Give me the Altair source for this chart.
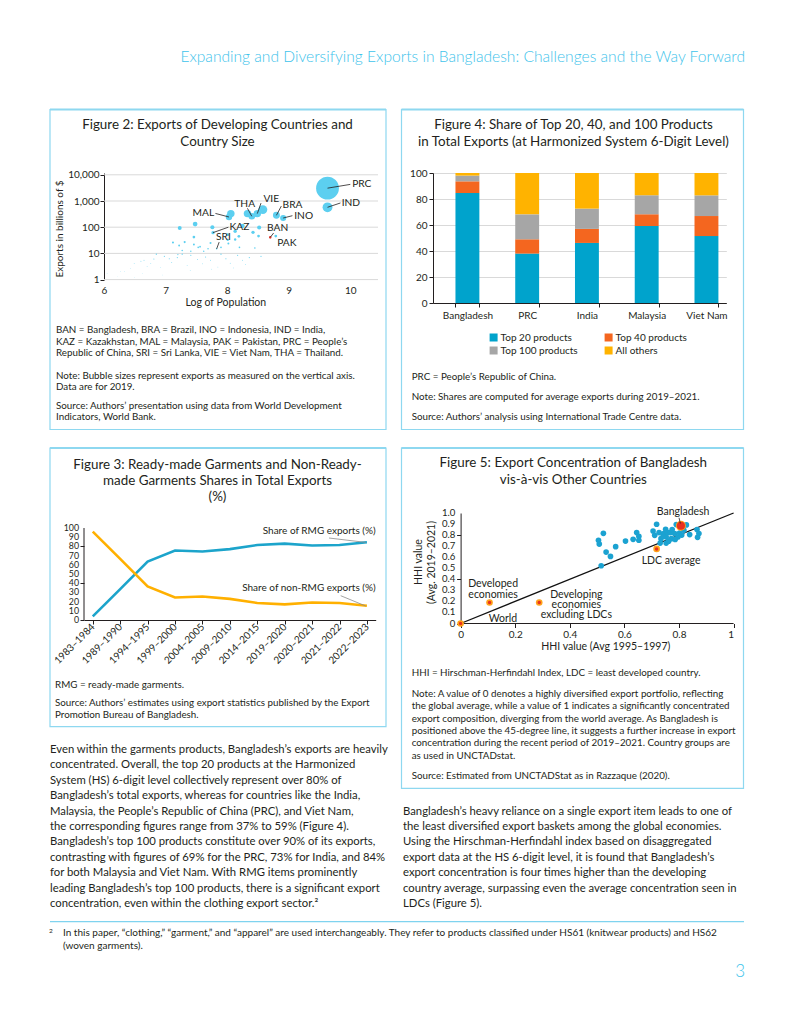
import altair as alt
import pandas as pd

FONT = "Lato"
INK = "#231f20"
CYAN = "#3ec3eb"
BOXC = "#8ed8f0"
GRID = "#d9d9d9"

# ================= DATA =================
# Figure 2: exports vs log of population (2019)
f2_code = ["PRC", "IND", "", "VIE", "THA", "", "BRA", "INO", "MAL", "",
           "", "", "", "", "", "KAZ", "", "", "", "",
           "", "", "", "", "", "", "", "", "", "",
           "", "", "", "", "", "", "", "", "", "SRI",
           "BAN", "PAK"] + [""] * 40
f2_logpop = [9.63, 9.63, 8.58, 8.49, 8.40, 8.33, 8.80, 8.91, 8.03, 8.06,
             7.48, 7.23, 8.25, 8.13, 8.52, 7.77, 7.76, 8.01, 8.19, 8.42,
             8.51, 8.13, 8.01, 7.73, 7.12, 7.22, 7.31, 7.46, 7.46, 7.53,
             7.56, 7.69, 7.90, 8.02, 8.20, 8.45, 7.27, 7.41, 7.62, 7.83,
             8.70, 8.79,
             6.85, 6.65, 6.60, 6.76, 6.98, 7.06, 7.19, 7.27, 7.41, 7.52,
             7.65, 7.73, 7.90, 7.98, 8.17, 8.25, 8.36, 8.55, 6.43, 6.33,
             6.62, 6.22, 6.92, 6.49, 6.05, 6.27, 6.81, 7.20, 6.70, 7.10,
             7.35, 7.60, 7.85, 8.05, 8.30, 6.95, 7.40, 6.50, 7.75, 8.10]
f2_exports = [3090, 575, 469, 330, 261, 330, 284, 224, 245, 330,
              132, 93, 111, 70, 97, 62, 99, 52, 45, 64,
              46, 34, 33, 25, 26, 20, 27, 42, 22, 17,
              18, 15, 17, 24, 17, 16, 13, 12, 12, 15,
              41, 46,
              9.3, 5.5, 5.0, 4.1, 7.7, 6.3, 6.9, 9.3, 8.5, 5.8,
              7.3, 5.5, 9.3, 6.3, 8.5, 5.5, 6.9, 7.7, 2.6, 2.0,
              1.7, 1.3, 2.9, 4.1, 1.7, 2.0, 6.1, 9.0, 3.2, 4.5,
              3.5, 4.0, 3.0, 4.2, 3.8, 1.5, 2.2, 1.2, 2.5, 2.8]
f2_ticks = [1, 10, 100, 1000, 10000]
# label anchors (data units) and leader-line ends
f2_lab = ["PRC", "IND", "VIE", "THA", "BRA", "INO", "MAL", "KAZ", "SRI", "BAN", "PAK"]
f2_lab_x = [10.03, 9.86, 8.59, 8.285, 8.90, 9.09, 7.79, 8.04, 7.94, 8.82, 8.97]
f2_lab_y = [4400, 850, 1234, 795, 685, 272, 348, 102, 42, 93.5, 25]
f2_lab_align = ["left", "left", "left", "center", "left", "left", "right", "left", "center", "center", "center"]
f2_lead_x = [10.0, 9.84, 8.55, 8.33, 8.88, 9.06, 7.81, 8.02, 7.87, 8.755, None]
f2_lead_y = [4300, 840, 830, 525, 640, 275, 335, 100, 27, 60, None]

# Figure 4: shares of top products
f4_countries = ["Bangladesh", "PRC", "India", "Malaysia", "Viet Nam"]
f4_segments = ["Top 20 products", "Top 40 products", "Top 100 products", "All others"]
f4_top20 = [84.6, 38.0, 46.2, 59.2, 51.5]
f4_top40 = [9.0, 11.0, 10.8, 9.0, 15.4]
f4_top100 = [4.4, 19.2, 15.6, 14.6, 15.9]
f4_others = [2.0, 31.8, 27.4, 17.2, 17.2]
f4_colors = ["#00a3cc", "#f4661f", "#a6a6a6", "#ffb300"]
# legend entries listed column by column (two columns)
f4_legend_order = [0, 2, 1, 3]

# Figure 3: RMG and non-RMG shares
f3_periods = ["1983–1984", "1989–1990", "1994–1995", "1999–2000", "2004–2005", "2009–2010",
              "2014–2015", "2019–2020", "2020–2021", "2021–2022", "2022–2023"]
f3_rmg = [4, 33.5, 63.5, 75.5, 74.5, 77, 81.5, 83, 81, 81.5, 84.5]
f3_non = [96, 66.5, 36.5, 24.5, 25.5, 23, 18.5, 17, 19, 18.5, 15.5]
f3_ticks = list(range(0, 101, 10))

# Figure 5: HHI values
f5_x = [0.505, 0.508, 0.523, 0.533, 0.549, 0.568, 0.604, 0.632, 0.645, 0.653,
        0.653, 0.515, 0.705, 0.718, 0.711, 0.727, 0.734, 0.731, 0.744, 0.751,
        0.753, 0.758, 0.753, 0.768, 0.775, 0.772, 0.784, 0.790, 0.796, 0.802,
        0.818, 0.827, 0.839, 0.866, 0.868, 0.873, 0.742, 0.762, 0.786, 0.810]
f5_y = [0.753, 0.719, 0.816, 0.646, 0.607, 0.695, 0.746, 0.762, 0.823, 0.789,
        0.753, 0.523, 0.837, 0.898, 0.798, 0.823, 0.768, 0.728, 0.814, 0.853,
        0.783, 0.823, 0.728, 0.823, 0.850, 0.768, 0.814, 0.895, 0.783, 0.819,
        0.844, 0.892, 0.805, 0.850, 0.780, 0.814, 0.790, 0.745, 0.760, 0.800]
f5_grp = ["World", "Developed economies", "Developing economies excluding LDCs", "LDC average", "Bangladesh"]
f5_grp_x = [0.0, 0.106, 0.288, 0.718, 0.807]
f5_grp_y = [0.0, 0.19, 0.19, 0.675, 0.885]
f5_note = ["Bangladesh", "LDC average", "Developed", "economies", "Developing", "economies", "excluding LDCs", "World"]
f5_note_x = [0.815, 0.771, 0.119, 0.119, 0.424, 0.424, 0.424, 0.155]
f5_note_y = [1.01, 0.565, 0.359, 0.259, 0.262, 0.171, 0.080, 0.041]
f5_yticks = [round(v * 0.1, 1) for v in range(11)]
f5_ylabels = ["0"] + [f"{v:.1f}" for v in f5_yticks[1:]]

# ================= LAYOUT (page px) =================
F2 = dict(x=103.3, y=174.5, w=274.0, h=104.8)
F4 = dict(x=431.7, y=172.7, w=293.3, h=130.0)
F3 = dict(x=83.3, y=527.3, w=291.7, h=92.0)
F5 = dict(x=459.3, y=512.3, w=273.0, h=110.5)

dummy = pd.DataFrame({"k": [0]})


def P(v):
    return v - 8


COL1 = F3["x"]
COL3 = F4["x"]
ROW1 = F4["y"]
ROW3 = F5["y"]
E2x = F2["x"] - COL1
E2y = F2["y"] - ROW1
E3y = F3["y"] - ROW3
E5x = F5["x"] - COL3

# ================= FIGURE 2 =================
d2 = pd.DataFrame({"code": f2_code, "logpop": f2_logpop, "exports": f2_exports})
d2["kind"] = ["BAN" if c == "BAN" else "other" for c in f2_code]
bx = dict(zip(f2_code, f2_logpop))
by = dict(zip(f2_code, f2_exports))
d2l = pd.DataFrame({"code": f2_lab, "tx": f2_lab_x, "ty": f2_lab_y, "al": f2_lab_align,
                    "lx": f2_lead_x, "ly": f2_lead_y})
d2l["bx"] = [bx[c] for c in f2_lab]
d2l["by"] = [by[c] for c in f2_lab]
d2g = pd.DataFrame({"gv": f2_ticks})

ppu = F2["w"] / 4.45
ppd = F2["h"] / 4.0
xs2 = alt.Scale(domain=[6 - E2x / ppu, 10.45], nice=False, zero=False)
ys2 = alt.Scale(type="log", domain=[1, 10 ** (4 + E2y / ppd)], nice=False)

grid2 = alt.Chart(d2g).mark_rule(color=GRID, strokeWidth=1).encode(
    x=alt.datum(6), x2=alt.datum(10.45),
    y=alt.Y("gv:Q", scale=ys2, title=None,
            axis=alt.Axis(values=f2_ticks, format=",", grid=False, domain=True, offset=-E2x,
                          tickSize=4, labelPadding=1, labelOverlap=False)))
bub = alt.Chart(d2).mark_circle(opacity=1).encode(
    x=alt.X("logpop:Q", scale=xs2, title=None,
            axis=alt.Axis(values=[6, 7, 8, 9, 10], format="d", grid=False, ticks=False,
                          domain=False, labelPadding=6)),
    y=alt.Y("exports:Q", scale=ys2, title=None),
    size=alt.Size("exports:Q", scale=alt.Scale(domain=[0, 3090], range=[0, 520]), legend=None),
    color=alt.Color("kind:N", scale=alt.Scale(domain=["other", "BAN"], range=["#5ccff0", "#e8392c"]), legend=None),
    order=alt.Order("exports:Q", sort="descending"),
)
lead2 = alt.Chart(d2l).transform_filter("isValid(datum.lx)").mark_rule(color=INK, strokeWidth=0.8).encode(
    x=alt.X("bx:Q", scale=xs2, title=None), y=alt.Y("by:Q", scale=ys2, title=None),
    x2="lx:Q", y2="ly:Q")
labs2 = [alt.Chart(d2l).transform_filter(f"datum.al == '{a}'").mark_text(
    align=a, baseline="middle", font=FONT, fontSize=10.2, color=INK).encode(
    x=alt.X("tx:Q", scale=xs2, title=None), y=alt.Y("ty:Q", scale=ys2, title=None), text="code:N")
    for a in ["left", "center", "right"]]
fig2 = alt.layer(grid2, bub, lead2, *labs2).properties(width=F2["w"] + E2x, height=F2["h"] + E2y)

# ================= FIGURE 4 =================
rows = []
for i, c in enumerate(f4_countries):
    for j, (s, vals) in enumerate(zip(f4_segments, [f4_top20, f4_top40, f4_top100, f4_others])):
        rows.append({"country": c, "segment": s, "value": vals[i], "idx": j})
d4 = pd.DataFrame(rows)
leg_dom = [f4_segments[k] for k in f4_legend_order]
leg_rng = [f4_colors[k] for k in f4_legend_order]
fig4 = alt.Chart(d4).mark_bar().encode(
    x=alt.X("country:N", sort=f4_countries, title=None,
            scale=alt.Scale(paddingInner=0.6, paddingOuter=0.254, align=0.74),
            axis=alt.Axis(labelAngle=0, tickBand="extent", tickSize=4, labelPadding=3)),
    y=alt.Y("value:Q", stack="zero", title=None, scale=alt.Scale(domain=[0, 100], nice=False),
            axis=alt.Axis(values=[0, 20, 40, 60, 80, 100], grid=True, gridColor=GRID, tickSize=4,
                          labelPadding=2, labelOverlap=False)),
    color=alt.Color("segment:N", sort=leg_dom,
                    scale=alt.Scale(domain=leg_dom, range=leg_rng),
                    legend=alt.Legend(orient="none", legendX=55.6, legendY=159.5, columns=2, title=None,
                                      symbolType="square", symbolSize=64, symbolStrokeWidth=0,
                                      labelFontSize=10, labelOffset=2, columnPadding=25, rowPadding=3,
                                      padding=0)),
    order=alt.Order("idx:Q", sort="ascending"),
).properties(width=F4["w"], height=F4["h"])

# ================= FIGURE 3 =================
d3 = pd.DataFrame({"period": f3_periods * 2, "share": f3_rmg + f3_non,
                   "series": ["RMG"] * len(f3_periods) + ["Non-RMG"] * len(f3_periods)})
d3t = pd.DataFrame({"v": f3_ticks, "lab": [str(v) for v in f3_ticks]})
ys3 = alt.Scale(domain=[0, 100 * (F3["h"] + E3y) / F3["h"]], nice=False)
lines3 = alt.Chart(d3).mark_line(strokeWidth=2.6).encode(
    x=alt.X("period:O", sort=f3_periods, title=None, scale=alt.Scale(type="point", padding=0.32),
            axis=alt.Axis(labelAngle=315, labelAlign="right", labelBaseline="middle", tickSize=4,
                          labelPadding=1, labelOverlap=False, grid=False)),
    y=alt.Y("share:Q", title=None, scale=ys3,
            axis=alt.Axis(values=f3_ticks, grid=False, domain=False, tickSize=4, labels=False)),
    color=alt.Color("series:N", scale=alt.Scale(domain=["RMG", "Non-RMG"], range=["#1ca4cb", "#ffb000"]), legend=None),
)
ylab3 = alt.Chart(d3t).mark_text(align="right", baseline="middle", font=FONT, fontSize=8.8, color=INK).encode(
    x=alt.value(-5), y=alt.Y("v:Q", scale=ys3, title=None), text="lab:N")
yline3 = alt.Chart(dummy).mark_rule(color=INK, strokeWidth=1).encode(
    x=alt.value(0), y=alt.datum(0), y2=alt.datum(100))
ann3 = []
for txt, ty, (x1, y1, x2, y2) in [("Share of RMG exports (%)", 2.7, (245, 10, 281.7, 14.4)),
                                  ("Share of non-RMG exports (%)", 60, (256.7, 67.7, 281.7, 78))]:
    ann3.append(alt.Chart(dummy).mark_text(align="right", baseline="middle", font=FONT, fontSize=10, color=INK).encode(
        x=alt.value(291.7), y=alt.value(ty + E3y), text=alt.value(txt)))
    ann3.append(alt.Chart(dummy).mark_rule(color="#8c8c8c", strokeWidth=0.8).encode(
        x=alt.value(x1), y=alt.value(y1 + E3y), x2=alt.value(x2), y2=alt.value(y2 + E3y)))
fig3 = alt.layer(lines3, yline3, ylab3, *ann3).properties(width=F3["w"], height=F3["h"] + E3y)

# ================= FIGURE 5 =================
xs5 = alt.Scale(domain=[-E5x / F5["w"], 1], nice=False, zero=False)
ys5 = alt.Scale(domain=[0, 1], nice=False)
d5 = pd.DataFrame({"hx": f5_x, "hy": f5_y})
d5g = pd.DataFrame({"grp": f5_grp, "hx": f5_grp_x, "hy": f5_grp_y})
d5g["big"] = [g == "Bangladesh" for g in f5_grp]
d5n = pd.DataFrame({"t": f5_note, "hx": f5_note_x, "hy": f5_note_y})
d5t = pd.DataFrame({"v": f5_yticks, "lab": f5_ylabels})
d45 = pd.DataFrame({"hx": [0, 1], "hy": [0, 1]})
line45 = alt.Chart(d45).mark_line(color="#111111", strokeWidth=1.3).encode(
    x=alt.X("hx:Q", scale=xs5, title=None,
            axis=alt.Axis(values=[0, 0.2, 0.4, 0.6, 0.8, 1], tickSize=4, labelPadding=1.5, domain=False,
                          labelOverlap=False, grid=False,
                          labelExpr="datum.value == 0 ? '0' : datum.value == 1 ? '1' : format(datum.value, '.1f')")),
    y=alt.Y("hy:Q", scale=ys5, title=None,
            axis=alt.Axis(values=f5_yticks, tickSize=4, labels=False, grid=False, offset=-E5x)),
)
ylab5 = alt.Chart(d5t).mark_text(align="right", baseline="middle", font=FONT, fontSize=9.6, color=INK).encode(
    x=alt.value(E5x - 5.3), y=alt.Y("v:Q", scale=ys5, title=None), text="lab:N")
xline5 = alt.Chart(dummy).mark_rule(color=INK, strokeWidth=1).encode(
    x=alt.datum(0), x2=alt.datum(1), y=alt.datum(0))
blue5 = alt.Chart(d5).mark_circle(size=32, color="#1ba2d1", opacity=1).encode(
    x=alt.X("hx:Q", scale=xs5, title=None), y=alt.Y("hy:Q", scale=ys5, title=None))
outer5 = alt.Chart(d5g).mark_circle(color="#ffa31a", opacity=1).encode(
    x=alt.X("hx:Q", scale=xs5, title=None), y=alt.Y("hy:Q", scale=ys5, title=None),
    size=alt.Size("big:N", scale=alt.Scale(domain=[False, True], range=[44, 100]), legend=None))
inner5 = alt.Chart(d5g).mark_circle(color="#e8311f", opacity=1).encode(
    x=alt.X("hx:Q", scale=xs5, title=None), y=alt.Y("hy:Q", scale=ys5, title=None),
    size=alt.Size("big:N", scale=alt.Scale(domain=[False, True], range=[12, 66]), legend=None))
notes5 = alt.Chart(d5n).mark_text(align="center", baseline="middle", font=FONT, fontSize=10.5, color=INK).encode(
    x=alt.X("hx:Q", scale=xs5, title=None), y=alt.Y("hy:Q", scale=ys5, title=None), text="t:N")
lead5 = alt.Chart(dummy).mark_rule(color=INK, strokeWidth=0.8).encode(
    x=alt.datum(0.80), y=alt.datum(0.957), x2=alt.datum(0.805), y2=alt.datum(0.905))
fig5 = alt.layer(line45, xline5, ylab5, blue5, outer5, inner5, notes5, lead5).resolve_scale(
    size="independent").properties(width=F5["w"] + E5x, height=F5["h"])

# ================= PAGE DECORATION (page px) =================
items = []


def rect(x1, y1, x2, y2):
    items.append(alt.Chart().mark_rect(fill="#ffffff", stroke=BOXC, strokeWidth=1.2).encode(
        x=alt.value(P(x1)), x2=alt.value(P(x2)), y=alt.value(P(y1)), y2=alt.value(P(y2))))
    items.append(alt.Chart().mark_rule(color=BOXC, strokeWidth=2).encode(
        x=alt.value(P(x1)), x2=alt.value(P(x2)), y=alt.value(P(y1))))


def text(s, x, y, size, align="left", color=INK, weight="normal", angle=0):
    items.append(alt.Chart().mark_text(align=align, baseline="middle", font=FONT, fontSize=size,
                                       color=color, fontWeight=weight, angle=angle).encode(
        x=alt.value(P(x)), y=alt.value(P(y)), text=alt.value(s)))


def block(lines, x, y0, lh, size, align="left"):
    for i, s in enumerate(lines):
        text(s, x, y0 + i * lh, size, align)


rect(50, 109.5, 386, 429.5)
rect(401.5, 109.5, 743.5, 429.5)
rect(50, 448, 386, 726.7)
rect(401.5, 448, 743.5, 788.3)

text("Expanding and Diversifying Exports in Bangladesh: Challenges and the Way Forward", 745, 57, 15.6,
     align="right", color=CYAN, weight=300)

TS = 13.4
NS = 9.8
# Figure 2
block(["Figure 2: Exports of Developing Countries and", "Country Size"], 217.5, 125, 17.3, TS, "center")
text("Exports in billions of $", 60, 229, 10, align="center", angle=270)
text("Log of Population", 225.8, 302.7, 10.5, align="center")
block(["BAN = Bangladesh, BRA = Brazil, INO = Indonesia, IND = India,",
       "KAZ = Kazakhstan, MAL = Malaysia, PAK = Pakistan, PRC = People’s",
       "Republic of China, SRI = Sri Lanka, VIE = Viet Nam, THA = Thailand."], 56, 330, 11.5, NS)
block(["Note: Bubble sizes represent exports as measured on the vertical axis.",
       "Data are for 2019."], 56, 375.7, 10.8, NS)
block(["Source: Authors’ presentation using data from World Development",
       "Indicators, World Bank."], 56, 405.7, 10.8, NS)

# Figure 4
block(["Figure 4: Share of Top 20, 40, and 100 Products",
       "in Total Exports (at Harmonized System 6-Digit Level)"], 573.5, 125, 17.3, TS, "center")
text("PRC = People’s Republic of China.", 411.7, 376.7, NS)
text("Note: Shares are computed for average exports during 2019–2021.", 411.7, 396.7, NS)
text("Source: Authors’ analysis using International Trade Centre data.", 411.7, 416.7, NS)

# Figure 3
block(["Figure 3: Ready-made Garments and Non-Ready-", "made Garments Shares in Total Exports", "(%)"],
      217.5, 465, 15.9, TS, "center")
text("RMG = ready-made garments.", 55, 685, NS)
block(["Source: Authors’ estimates using export statistics published by the Export",
       "Promotion Bureau of Bangladesh."], 55, 703.3, 11.7, NS)

# Figure 5
block(["Figure 5: Export Concentration of Bangladesh", "vis-à-vis Other Countries"], 573.3, 463.3, 16.7, TS, "center")
text("HHI value (Avg 1995–1997)", 605.8, 646.7, 10.5, align="center")
text("HHI value", 419.3, 562, 10.5, align="center", angle=270)
text("(Avg. 2019–2021)", 431.7, 562.5, 10.5, align="center", angle=270)
text("HHI = Hirschman-Herfindahl Index, LDC = least developed country.", 411.7, 673, NS)
block(["Note: A value of 0 denotes a highly diversified export portfolio, reflecting",
       "the global average, while a value of 1 indicates a significantly concentrated",
       "export composition, diverging from the world average. As Bangladesh is",
       "positioned above the 45-degree line, it suggests a further increase in export",
       "concentration during the recent period of 2019–2021. Country groups are",
       "as used in UNCTADstat."], 411.7, 693.7, 12.4, NS)
text("Source: Estimated from UNCTADStat as in Razzaque (2020).", 411.7, 775.7, NS)

# Body text
BS = 11.3
block(["Even within the garments products, Bangladesh’s exports are heavily",
       "concentrated. Overall, the top 20 products at the Harmonized",
       "System (HS) 6-digit level collectively represent over 80% of",
       "Bangladesh’s total exports, whereas for countries like the India,",
       "Malaysia, the People’s Republic of China (PRC), and Viet Nam,",
       "the corresponding figures range from 37% to 59% (Figure 4).",
       "Bangladesh’s top 100 products constitute over 90% of its exports,",
       "contrasting with figures of 69% for the PRC, 73% for India, and 84%",
       "for both Malaysia and Viet Nam. With RMG items prominently",
       "leading Bangladesh’s top 100 products, there is a significant export",
       "concentration, even within the clothing export sector.²"], 50, 750, 15.4, BS)
block(["Bangladesh’s heavy reliance on a single export item leads to one of",
       "the least diversified export baskets among the global economies.",
       "Using the Hirschman-Herfindahl index based on disaggregated",
       "export data at the HS 6-digit level, it is found that Bangladesh’s",
       "export concentration is four times higher than the developing",
       "country average, surpassing even the average concentration seen in",
       "LDCs (Figure 5)."], 403, 811.6, 15.4, BS)

# Footnote
items.append(alt.Chart().mark_rule(color="#7fd3ef", strokeWidth=1.2).encode(
    x=alt.value(P(50)), x2=alt.value(P(744)), y=alt.value(P(921.7))))
text("2", 49, 930.5, 6.5)
block(["In this paper, “clothing,” “garment,” and “apparel” are used interchangeably. They refer to products classified under HS61 (knitwear products) and HS62",
       "(woven garments)."], 63, 933.3, 12.7, 10.0)
text("3", 745, 971.7, 17, align="right", color=CYAN, weight=300)

bg = alt.layer(*items, data=dummy).properties(width=1, height=1)


# ================= GRID ASSEMBLY =================
def spacer(w, h):
    return alt.Chart(dummy).mark_point(opacity=0, size=1).encode(
        x=alt.value(2), y=alt.value(2)).properties(width=w, height=h)


cells = [
    bg, spacer(1, P(ROW1)), spacer(1, 1), spacer(1, 1),
    spacer(P(COL1), 1), fig2, spacer(COL3 - COL1 - (F2["w"] + E2x), 1), fig4,
    spacer(1, ROW3 - ROW1 - F4["h"]), spacer(1, 1), spacer(1, 1), spacer(1, 1),
    spacer(1, 1), fig3, spacer(1, 1), fig5,
]

chart = alt.concat(*cells, columns=4, spacing=0, bounds="flush", align="each").properties(
    padding=0
).resolve_scale(color="independent", size="independent").resolve_legend(
    color="independent", size="independent"
).configure_view(stroke=None).configure_axis(
    labelFont=FONT, labelFontSize=10, labelColor=INK, tickColor=INK, domainColor=INK,
    titleFont=FONT, domainWidth=1, tickWidth=1
).configure_legend(labelFont=FONT, labelColor=INK)

chart.save("out.html", embed_options={"renderer": "svg", "actions": False})
